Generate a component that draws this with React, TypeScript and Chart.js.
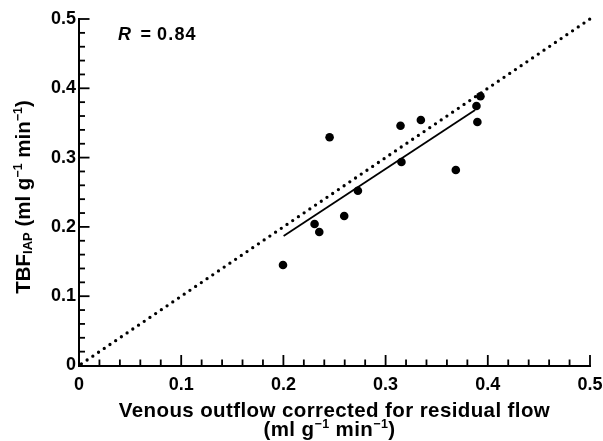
import React, { useEffect, useRef } from "react";
import { Chart, registerables } from "chart.js";

Chart.register(...registerables);

// Data
const venousOutflow = [0.1996, 0.2305, 0.2351, 0.2452, 0.2595, 0.2729, 0.3146, 0.3155, 0.3345, 0.3687, 0.3889, 0.3898, 0.3928];
const tbfIAP = [0.145, 0.2042, 0.1926, 0.3293, 0.2157, 0.2522, 0.346, 0.2937, 0.3543, 0.2821, 0.3745, 0.3514, 0.3885];
const regressionX = [0.2002, 0.3876];
const regressionY = [0.1869, 0.3687];
const identityX = [0, 0.5];
const identityY = [0, 0.5];
const axisMin = 0;
const axisMax = 0.5;
const majorStep = 0.1;
const minorStep = 0.02;
const correlationLabel = "0.84";

const FONT = "'Liberation Sans', Arial, Helvetica, sans-serif";

type Part = { text: string; size: number; dy: number; italic?: boolean };

function setFont(ctx: CanvasRenderingContext2D, p: Part) {
  ctx.font = `${p.italic ? "italic " : ""}bold ${p.size}px ${FONT}`;
}

function partsWidth(ctx: CanvasRenderingContext2D, parts: Part[]) {
  let w = 0;
  for (const p of parts) {
    setFont(ctx, p);
    w += ctx.measureText(p.text).width;
  }
  return w;
}

function drawParts(ctx: CanvasRenderingContext2D, parts: Part[], startX: number, baseY: number) {
  let x = startX;
  for (const p of parts) {
    setFont(ctx, p);
    ctx.fillText(p.text, x, baseY + p.dy);
    x += ctx.measureText(p.text).width;
  }
}

const decorPlugin = {
  id: "decor",
  afterDraw(chart: any) {
    const ctx: CanvasRenderingContext2D = chart.ctx;
    const xs = chart.scales.x;
    const ys = chart.scales.y;
    const area = chart.chartArea;
    ctx.save();
    // inward tick marks
    ctx.fillStyle = "#000";
    const n = Math.round((axisMax - axisMin) / minorStep);
    const every = Math.round(majorStep / minorStep);
    const tw = 1.8;
    for (let i = 1; i <= n; i++) {
      const v = axisMin + i * minorStep;
      const major = i % every === 0;
      const len = major ? 10.5 : 6;
      const px = xs.getPixelForValue(v);
      ctx.fillRect(px - tw / 2, area.bottom - len, tw, len);
      const py = ys.getPixelForValue(v);
      ctx.fillRect(area.left, py - tw / 2, len, tw);
    }

    ctx.textBaseline = "alphabetic";
    ctx.textAlign = "left";
    (ctx as any).letterSpacing = "0.4px";
    const big = 20.5;
    const sup = 12.5;
    // x title
    const line1: Part[] = [{ text: "Venous outflow corrected for residual flow", size: big, dy: 0 }];
    const w1 = partsWidth(ctx, line1);
    const cx = (area.left + area.right) / 2;
    drawParts(ctx, line1, cx - w1 / 2, 416.5);
    const line2: Part[] = [
      { text: "(ml g", size: big, dy: 0 },
      { text: "\u22121", size: sup, dy: -8 },
      { text: " min", size: big, dy: 0 },
      { text: "\u22121", size: sup, dy: -8 },
      { text: ")", size: big, dy: 0 },
    ];
    const w2 = partsWidth(ctx, line2);
    drawParts(ctx, line2, cx - 5 - w2 / 2, 436);

    // y title
    (ctx as any).letterSpacing = "0px";
    const ytitle: Part[] = [
      { text: "TBF", size: big, dy: 0 },
      { text: "IAP", size: 13, dy: 2 },
      { text: " (ml g", size: big, dy: 0 },
      { text: "\u22121", size: sup, dy: -8 },
      { text: " min", size: big, dy: 0 },
      { text: "\u22121", size: sup, dy: -8 },
      { text: ")", size: big, dy: 0 },
    ];
    const wy = partsWidth(ctx, ytitle);
    ctx.save();
    ctx.translate(30, 197);
    ctx.rotate(-Math.PI / 2);
    drawParts(ctx, ytitle, -wy / 2, 0);
    ctx.restore();

    // R annotation
    ctx.font = `italic bold 18px ${FONT}`;
    ctx.fillText("R", 118, 39.5);
    ctx.font = `bold 18px ${FONT}`;
    ctx.fillText("=", 140.5, 39.5);
    (ctx as any).letterSpacing = "1.2px";
    ctx.fillText(correlationLabel, 157, 39.5);
    (ctx as any).letterSpacing = "0px";
    ctx.restore();
  },
};

export default function App() {
  const ref = useRef<HTMLCanvasElement | null>(null);
  useEffect(() => {
    if (!ref.current) return;
    const pts = venousOutflow.map((x, i) => ({ x, y: tbfIAP[i] }));
    const reg = regressionX.map((x, i) => ({ x, y: regressionY[i] }));
    const ident = identityX.map((x, i) => ({ x, y: identityY[i] }));
    const tickFont = { family: FONT, size: 18, weight: "bold" as const };
    const fmt = (v: any) => {
      const n = Number(v);
      return Math.abs(n) < 1e-9 ? "0" : n.toFixed(1);
    };
    const chart = new Chart(ref.current, {
      type: "scatter",
      data: {
        datasets: [
          {
            data: ident,
            showLine: true,
            borderColor: "#000",
            borderWidth: 3.3,
            borderDash: [0, 6.9],
            borderDashOffset: 4,
            borderCapStyle: "round",
            pointRadius: 0,
            clip: false,
          } as any,
          {
            data: reg,
            showLine: true,
            borderColor: "#000",
            borderWidth: 1.8,
            pointRadius: 0,
          },
          {
            data: pts,
            backgroundColor: "#000",
            borderColor: "#000",
            borderWidth: 0,
            pointRadius: 4.3,
          },
        ],
      },
      options: {
        responsive: false,
        animation: false,
        events: [],
        layout: { padding: { top: 19, right: 13, left: 0, bottom: 0 } },
        plugins: { legend: { display: false }, tooltip: { enabled: false } },
        scales: {
          x: {
            type: "linear",
            min: axisMin,
            max: axisMax,
            grid: { display: false, drawTicks: false },
            border: { display: true, color: "#000", width: 2 },
            ticks: { stepSize: majorStep, color: "#000", font: tickFont, padding: 9, callback: fmt, maxRotation: 0 },
            afterFit: (s: any) => {
              s.height = 75.5;
              s.paddingRight = 0;
              s.paddingLeft = 0;
            },
          },
          y: {
            type: "linear",
            min: axisMin,
            max: axisMax,
            grid: { display: false, drawTicks: false },
            border: { display: true, color: "#000", width: 2 },
            ticks: { stepSize: majorStep, color: "#000", font: tickFont, padding: 3, callback: fmt },
            afterFit: (s: any) => {
              s.width = 79;
              s.paddingTop = 0;
              s.paddingBottom = 0;
            },
          },
        },
      },
      plugins: [decorPlugin],
    });
    return () => chart.destroy();
  }, []);
  return (
    <div style={{ position: "absolute", left: 0, top: 0, width: 603, height: 441, background: "#fff" }}>
      <canvas ref={ref} width={603} height={441} style={{ display: "block" }} />
    </div>
  );
}
